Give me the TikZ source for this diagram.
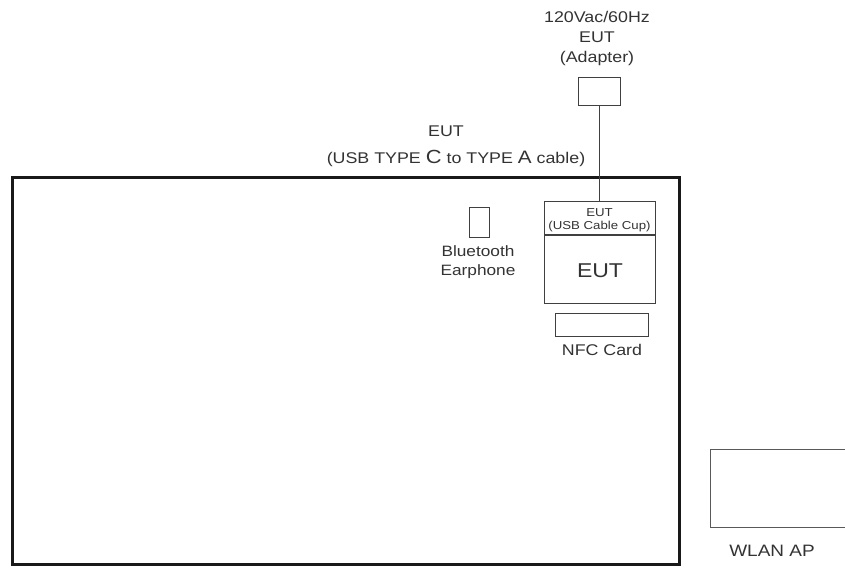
\documentclass[tikz,border=0pt]{standalone}
\usepackage{fontspec}
\setmainfont{Liberation Sans}[FakeStretch=1.15]
\begin{document}
\begin{tikzpicture}[x=1pt,y=-1pt,
  txt/.style={inner sep=0pt,text=black!80,font=\fontsize{15.5}{18}\selectfont,align=center},
  box/.style={draw=black!75,line width=1.3pt,inner sep=0pt,anchor=north west},
  wire/.style={draw=black!75,line width=1.3pt}]
\useasboundingbox (0,0) rectangle (845,567);
% table
\node[draw=black!90,line width=3pt,inner sep=0pt,anchor=north west,minimum width=667pt,minimum height=387pt] (table) at (11,176) {};
% adapter
\node[box,minimum width=42pt,minimum height=28pt] (adapter) at (578,77) {};
\node[txt] (adtxt1) at (597,17) {120Vac/60Hz};
\node[txt] (adtxt2) at (597,37) {EUT};
\node[txt] (adtxt3) at (597,58) {(Adapter)};
% cable label
\node[txt] (cab1) at (446,131) {EUT};
\node[txt] (cab2) at (456,158) {(USB TYPE {\fontsize{19}{18}\selectfont C} to TYPE {\fontsize{18}{18}\selectfont A} cable)};
% EUT box
\node[box,minimum width=111pt,minimum height=102pt] (eut) at (544,201) {};
\coordinate (divl) at (544,235);
\coordinate (divr) at (655,235);
\draw[wire] (divl) -- (divr);
\node[txt,font=\fontsize{11.5}{12}\selectfont] (cup1) at (599.5,213) {EUT};
\node[txt,font=\fontsize{11.5}{12}\selectfont] (cup2) at (599.5,227) {(USB Cable Cup)};
\node[txt,font=\fontsize{20}{22}\selectfont] (euttxt) at (600,271) {EUT};
\draw[wire] (adapter.south) -- (eut.north -| adapter.south);
% bluetooth earphone
\node[box,minimum width=20pt,minimum height=30pt] (bt) at (469,207) {};
\node[txt,font=\fontsize{15}{19}\selectfont] (bttxt) at (478,262) {Bluetooth\\Earphone};
% NFC card
\node[box,minimum width=93pt,minimum height=23pt] (nfc) at (555,313) {};
\node[txt] (nfctxt) at (602,350) {NFC Card};
% WLAN AP
\node[box,draw=black!65,minimum width=140pt,minimum height=78pt] (wlan) at (710,449) {};
\node[txt,font=\fontsize{16.5}{18}\selectfont] (wlantxt) at (772,551) {WLAN AP};
\end{tikzpicture}
\end{document}
